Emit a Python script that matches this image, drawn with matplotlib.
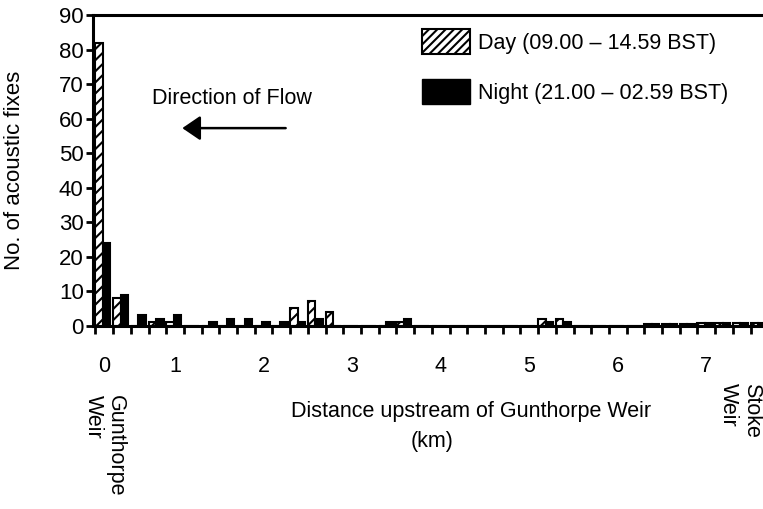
import matplotlib
matplotlib.use("Agg")
import matplotlib.pyplot as plt
from matplotlib.patches import Patch
from matplotlib.transforms import blended_transform_factory

plt.rcParams["font.family"] = ["Liberation Sans", "DejaVu Sans"]
plt.rcParams["hatch.linewidth"] = 1.5

# acoustic fixes per 0.2 km bin upstream of Gunthorpe Weir
day = [82, 8, 0, 1, 1, 0, 0, 0, 0, 0, 0, 5, 7, 4, 0, 0, 0, 1, 0,
       0, 0, 0, 0, 0, 0, 2, 2, 0, 0, 0, 0, 0.4, 0.4, 0.4, 0.6, 0.6, 0.6, 0.6]
night = [24, 9, 3, 2, 3, 0, 1, 2, 2, 1, 1, 1, 2, 0, 0, 0, 1, 2, 0,
         0, 0, 0, 0, 0, 0, 1, 1, 0, 0, 0, 0, 0.4, 0.4, 0.4, 0.6, 0.6, 0.6, 0.6]
km_labels = ["0", "1", "2", "3", "4", "5", "6", "7"]
km_label_bins = [0, 4, 9, 14, 19, 24, 29, 34]
legend_labels = ["Day (09.00 \u2013 14.59 BST)", "Night (21.00 \u2013 02.59 BST)"]

fig = plt.figure(figsize=(7.63, 5.09), dpi=100)
ax = fig.add_axes([0.1225, 0.3605, 0.8775, 0.6091])

bins = range(len(day))
ax.bar([i for i in bins], day, width=0.42, align="edge", facecolor="white",
       edgecolor="black", hatch="///", linewidth=1.5)
ax.bar([i + 0.42 for i in bins], night, width=0.43, align="edge",
       facecolor="black", edgecolor="black", linewidth=1.5)

ax.set_xlim(-0.11, 37.7)
ax.set_ylim(0, 90)
ax.set_yticks(range(0, 91, 10))

ax.set_xticks([b + 0.5 for b in km_label_bins])
ax.set_xticklabels(km_labels)
ax.set_xticks(range(0, len(day)), minor=True)
ax.tick_params(axis="x", which="major", length=0, pad=22, labelsize=15.5)
ax.tick_params(axis="x", which="minor", length=6, width=2, direction="out")
ax.tick_params(axis="y", length=5, width=2, pad=2, labelsize=16)

for side in ["left", "bottom", "top"]:
    ax.spines[side].set_linewidth(2.2)
ax.spines["right"].set_visible(False)

ax.set_ylabel("No. of acoustic fixes", fontsize=16)
ax.yaxis.set_label_coords(-0.103, 0.5)

trans = blended_transform_factory(ax.transData, ax.transAxes)
ax.text(0.5, -0.224, "Gunthorpe\nWeir", transform=trans, rotation=-90,
        ha="center", va="top", multialignment="left", fontsize=15.5,
        linespacing=1.1)
ax.text(36.4, -0.185, "Stoke\nWeir", transform=trans, rotation=-90,
        ha="center", va="top", multialignment="left", fontsize=15.5,
        linespacing=1.1)
ax.text(0.564, -0.245, "Distance upstream of Gunthorpe Weir",
        transform=ax.transAxes, ha="center", va="top", fontsize=15.5)
ax.text(0.505, -0.34, "(km)", transform=ax.transAxes, ha="center",
        va="top", fontsize=15.5)

ax.text(7.7, 66, "Direction of Flow", ha="center", va="center", fontsize=15.5)
ax.annotate("", xy=(4.75, 57.3), xytext=(10.9, 57.3),
            arrowprops=dict(arrowstyle="-|>,head_length=1.1,head_width=0.75",
                            color="black", lw=1.8))

handles = [Patch(facecolor="white", edgecolor="black", hatch="////", linewidth=1.5),
           Patch(facecolor="black", edgecolor="black")]
ax.legend(handles, legend_labels, loc="upper left", bbox_to_anchor=(0.4907, 0.955),
          frameon=False, fontsize=15.5, handlelength=2.25, handleheight=1.4,
          handletextpad=0.35, labelspacing=1.15, borderpad=0, borderaxespad=0)

fig.savefig("out.png", dpi=100)
